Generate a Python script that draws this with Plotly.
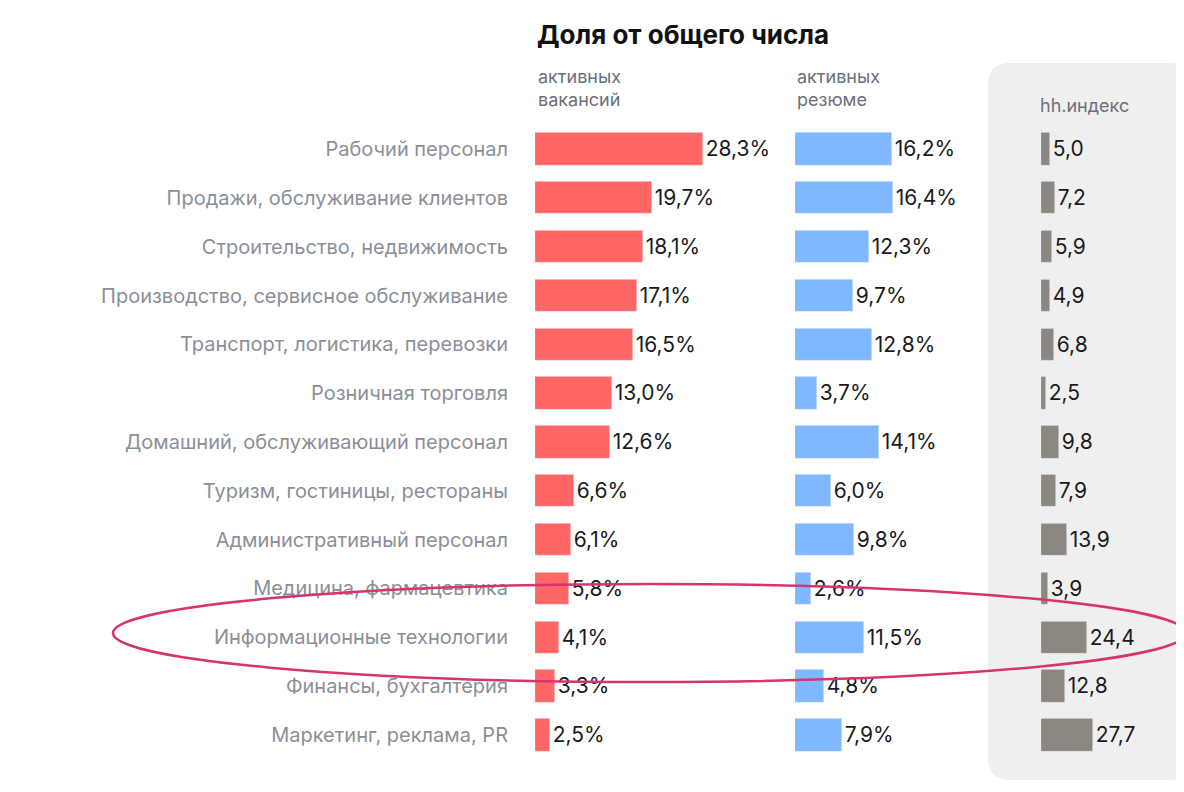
import plotly.graph_objects as go

W, H = 1184, 792

categories = [
    "Рабочий персонал", "Продажи, обслуживание клиентов", "Строительство, недвижимость",
    "Производство, сервисное обслуживание", "Транспорт, логистика, перевозки",
    "Розничная торговля", "Домашний, обслуживающий персонал", "Туризм, гостиницы, рестораны",
    "Административный персонал", "Медицина, фармацевтика", "Информационные технологии",
    "Финансы, бухгалтерия", "Маркетинг, реклама, PR",
]
vacancies = [28.3, 19.7, 18.1, 17.1, 16.5, 13.0, 12.6, 6.6, 6.1, 5.8, 4.1, 3.3, 2.5]
resumes = [16.2, 16.4, 12.3, 9.7, 12.8, 3.7, 14.1, 6.0, 9.8, 2.6, 11.5, 4.8, 7.9]
hh_index = [5.0, 7.2, 5.9, 4.9, 6.8, 2.5, 9.8, 7.9, 13.9, 3.9, 24.4, 12.8, 27.7]


def px(x):
    return x / W


def py(y):
    return 1 - y / H


def fmt(v, pct):
    s = f"{v:.1f}".replace(".", ",")
    return s + "%" if pct else s


rows = list(range(len(categories)))
font_txt = dict(family="Inter, Roboto, sans-serif", size=21, color="#1a1a1a")

fig = go.Figure()
fig.add_bar(y=rows, x=vacancies, orientation="h", marker_color="#ff6666", width=0.66,
            text=[fmt(v, True) for v in vacancies], textposition="outside",
            textfont=font_txt, cliponaxis=False, xaxis="x", yaxis="y")
fig.add_bar(y=rows, x=resumes, orientation="h", marker_color="#80b8ff", width=0.66,
            text=[fmt(v, True) for v in resumes], textposition="outside",
            textfont=font_txt, cliponaxis=False, xaxis="x2", yaxis="y")
fig.add_bar(y=rows, x=hh_index, orientation="h", marker_color="#8c8780", width=0.66,
            text=[fmt(v, False) for v in hh_index], textposition="outside",
            textfont=font_txt, cliponaxis=False, xaxis="x3", yaxis="y")

hidden = dict(visible=False, fixedrange=True)
top, bottom = 141 - 24.4, 727 + 24.4

# rounded grey panel behind hh index
x0, x1, y0, y1, r = 980, 1184, 55, 772, 22
path = (f"M {px(x0 + r)},{py(y0)} L {px(x1 - r)},{py(y0)} "
        f"Q {px(x1)},{py(y0)} {px(x1)},{py(y0 + r)} L {px(x1)},{py(y1 - r)} "
        f"Q {px(x1)},{py(y1)} {px(x1 - r)},{py(y1)} L {px(x0 + r)},{py(y1)} "
        f"Q {px(x0)},{py(y1)} {px(x0)},{py(y1 - r)} L {px(x0)},{py(y0 + r)} "
        f"Q {px(x0)},{py(y0)} {px(x0 + r)},{py(y0)} Z")

fig.update_layout(
    width=W, height=H, margin=dict(l=0, r=0, t=0, b=0),
    paper_bgcolor="white", plot_bgcolor="rgba(0,0,0,0)",
    showlegend=False, bargap=0,
    font=dict(family="Inter, Roboto, sans-serif"),
    xaxis=dict(domain=[px(527), px(780)], range=[0, 253 / 5.94], **hidden),
    xaxis2=dict(domain=[px(787), px(975)], range=[0, 188 / 5.98], **hidden),
    xaxis3=dict(domain=[px(1033), px(1180)], range=[0, 147 / 1.88], **hidden),
    yaxis=dict(domain=[py(bottom), py(top)], range=[12.5, -0.5], anchor="x",
               tickvals=rows, ticktext=categories, ticklabelstandoff=26,
               tickfont=dict(size=20, color="#8a8f99"), showgrid=False,
               zeroline=False, showline=False, fixedrange=True),
    shapes=[
        dict(type="path", path=path, xref="paper", yref="paper",
             fillcolor="#efefef", line_width=0, layer="below"),
        dict(type="circle", xref="paper", yref="paper",
             x0=px(105), x1=px(1178), y0=py(576), y1=py(674),
             line=dict(color="#d6336f", width=2.5), layer="above"),
    ],
)

ann = [
    dict(text="<b>Доля от общего числа</b>", x=px(527), y=py(26), size=26, color="#111111"),
    dict(text="активных<br>вакансий", x=px(528), y=py(80), size=18, color="#6b7079"),
    dict(text="активных<br>резюме", x=px(787), y=py(80), size=18, color="#6b7079"),
    dict(text="hh.индекс", x=px(1030), y=py(97), size=18, color="#6b7079"),
    dict(text="Данные: hh.ru", x=px(18), y=py(800), size=18, color="#8a8f99"),
]
for a in ann:
    fig.add_annotation(text=a["text"], x=a["x"], y=a["y"], xref="paper", yref="paper",
                       xanchor="left", yanchor="middle", showarrow=False, align="left",
                       font=dict(size=a["size"], color=a["color"]))

fig.write_html("out.html")
